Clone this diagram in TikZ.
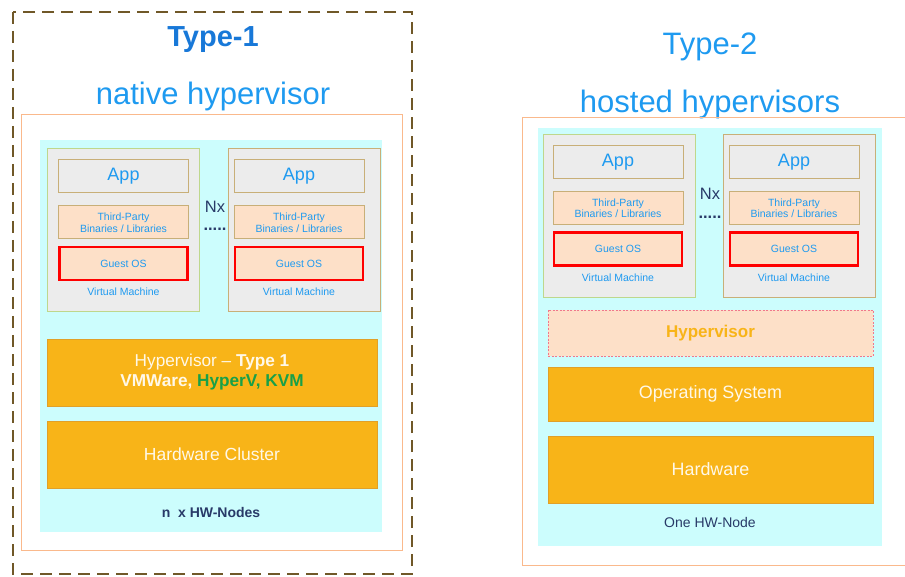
\documentclass[tikz,border=0pt]{standalone}
\usepackage{fontspec}
\setmainfont{Liberation Sans}
\definecolor{framebrown}{RGB}{112,88,40}
\definecolor{outerorange}{RGB}{250,185,140}
\definecolor{cyanbg}{RGB}{204,253,253}
\definecolor{vmgray}{RGB}{236,236,236}
\definecolor{vmgreen}{RGB}{190,215,140}
\definecolor{tanline}{RGB}{200,175,120}
\definecolor{peach}{RGB}{253,224,200}
\definecolor{layerorange}{RGB}{248,180,24}
\definecolor{layerline}{RGB}{225,160,40}
\definecolor{layertext}{RGB}{255,248,232}
\definecolor{titleblue}{RGB}{24,120,216}
\definecolor{lightblue}{RGB}{30,154,240}
\definecolor{navy}{RGB}{40,58,104}
\definecolor{kvmgreen}{RGB}{24,160,72}
\definecolor{pinkline}{RGB}{240,120,140}

\begin{document}
\begin{tikzpicture}[x=1pt,y=-1pt,
    every node/.style={inner sep=0pt,outer sep=0pt},
    vmbox/.style={rectangle,fill=vmgray,line width=1pt,minimum width=152,minimum height=163},
    appbox/.style={rectangle,draw=tanline,fill=vmgray,line width=1pt,minimum width=130,minimum height=33,
      text=lightblue,font=\fontsize{18}{20}\selectfont},
    libbox/.style={rectangle,draw=tanline,fill=peach,line width=1pt,minimum width=130,minimum height=33,
      text=lightblue,align=center,font=\fontsize{10.5}{11.5}\selectfont},
    osbox/.style={rectangle,draw=red,fill=peach,line width=2.4pt,minimum width=128,minimum height=33,
      text=lightblue,font=\fontsize{10.5}{12}\selectfont},
    vmlabel/.style={text=lightblue,font=\fontsize{10.5}{12}\selectfont},
    layer/.style={rectangle,draw=layerline,fill=layerorange,line width=0.8pt,
      text=layertext,align=center,font=\fontsize{17.5}{20}\selectfont},
    nxlabel/.style={text=navy,font=\fontsize{16.5}{18}\selectfont}]
  \useasboundingbox (0,0) rectangle (905,577);

  % Type-1
  \draw[framebrown,line width=2.8pt,dash pattern=on 12pt off 7pt] (13,12) rectangle (412,574);
  \node[text=titleblue,font=\fontsize{29}{31}\selectfont\bfseries] (t1) at (213,40) {Type-1};
  \node[text=lightblue,font=\fontsize{31}{34}\selectfont] (t1sub) at (213,96) {native hypervisor};
  \draw[outerorange,line width=1pt] (21,115) rectangle (402,550);
  \fill[cyanbg] (40,140) rectangle (382,532);

  % Type-2
  \node[text=lightblue,font=\fontsize{31}{34}\selectfont] (t2) at (710,47) {Type-2};
  \node[text=lightblue,font=\fontsize{31}{34}\selectfont] (t2sub) at (710,104) {hosted hypervisors};
  \draw[outerorange,line width=1pt] (905,118) -| (522,565) -- (905,565);
  \fill[cyanbg] (538,128) rectangle (882,546);

  % virtual machines
  \foreach \n/\vx/\ix/\vy/\c in {L1/123.5/123.5/230.5/vmgreen, L2/304/299/230.5/tanline,
                                 R1/619/618/216/vmgreen, R2/799/794/216/tanline}{
    \node[vmbox,draw=\c] (vm\n) at (\vx,\vy) {};
    \node[appbox] (app\n) at (\ix,\vy-54) {App};
    \node[libbox] (lib\n) at (\ix,\vy-8) {Third-Party\\Binaries / Libraries};
    \node[osbox] (os\n) at (\ix,\vy+33) {Guest OS};
    \node[vmlabel] (lbl\n) at (\ix,\vy+61.5) {Virtual Machine};
  }
  \node[nxlabel] (nxL) at (215,207) {Nx};
  \node[nxlabel,font=\fontsize{16.5}{18}\selectfont\bfseries] (dotsL) at (215,229) {.....};
  \node[nxlabel] (nxR) at (710,194) {Nx};
  \node[nxlabel,font=\fontsize{16.5}{18}\selectfont\bfseries] (dotsR) at (710,217) {.....};

  % layers Type-1
  \node[layer,font=\fontsize{17.2}{20}\selectfont,minimum width=330,minimum height=67] (hyp1) at (212,372.5)
    {Hypervisor -- \textbf{Type 1}\\\textbf{VMWare, \textcolor{kvmgreen}{HyperV, KVM}}};
  \node[layer,minimum width=330,minimum height=67] (hwc) at (212,454.5) {Hardware Cluster};
  \node[text=navy,font=\fontsize{14}{16}\selectfont\bfseries] (nodesL) at (211,512) {n\ \ x HW-Nodes};

  % layers Type-2
  \node[layer,draw=pinkline,fill=peach,line width=0.7pt,dash pattern=on 2pt off 1.5pt,
    text=layerorange,font=\fontsize{17}{20}\selectfont\bfseries,
    minimum width=325,minimum height=46] (hyp2) at (710.5,333) {Hypervisor};
  \node[layer,font=\fontsize{17.9}{20}\selectfont,minimum width=325,minimum height=54] (os2) at (710.5,394) {Operating System};
  \node[layer,font=\fontsize{17.9}{20}\selectfont,minimum width=325,minimum height=67] (hw2) at (710.5,469.5) {Hardware};
  \node[text=navy,font=\fontsize{14}{16}\selectfont] (nodesR) at (710,522) {One HW-Node};
\end{tikzpicture}
\end{document}
